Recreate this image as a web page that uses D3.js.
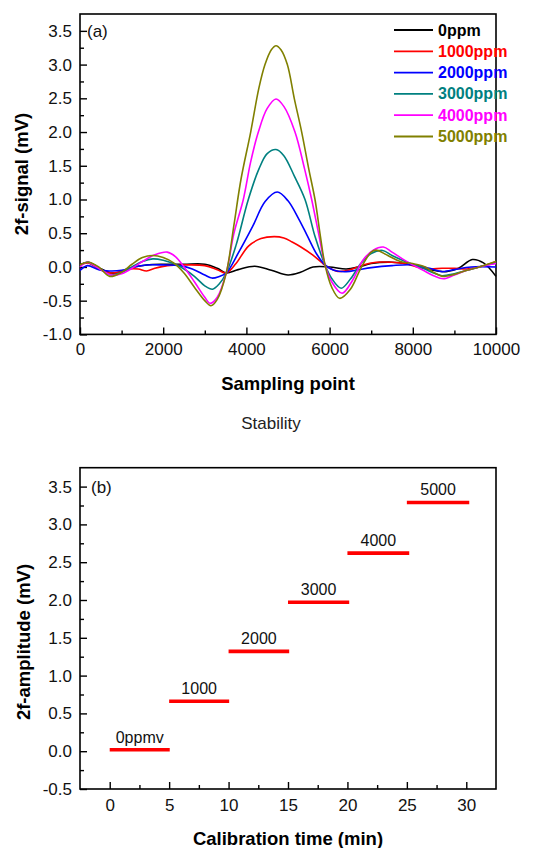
<!DOCTYPE html>
<html>
<head>
<meta charset="utf-8">
<script src="https://cdn.jsdelivr.net/npm/d3@7/dist/d3.min.js"></script>
<style>
  body { margin: 0; background: #fff; }
  text { font-family: "Liberation Sans", Arial, sans-serif; }
</style>
</head>
<body>
<div id="chart"></div>
<script>
// ---- panel (a): 2f signal vs sampling point, one curve per concentration
var seriesNames = ["0ppm", "1000ppm", "2000ppm", "3000ppm", "4000ppm", "5000ppm"];
var seriesColors = ["#000000", "#ff0000", "#0000ff", "#008080", "#ff00ff", "#808000"];

// [sampling point, mV]
var ppm0 = [[0,0.03],[200,0.07],[450,-0.01],[750,-0.09],[1000,-0.07],[1300,0.0],[1600,0.03],[2000,0.04],[2500,0.04],[3000,0.04],[3300,-0.02],[3515,-0.09],[3800,-0.04],[4200,0.01],[4600,-0.05],[5000,-0.12],[5300,-0.08],[5600,0.0],[6000,0.0],[6400,-0.03],[6700,0.0],[7000,0.05],[7500,0.07],[8000,0.03],[8400,-0.04],[8800,-0.07],[9100,-0.02],[9430,0.11],[9700,0.06],[10000,-0.14]];
var ppm1000 = [[0,0.03],[200,0.06],[450,-0.03],[750,-0.09],[1000,-0.07],[1200,-0.03],[1400,-0.03],[1600,-0.06],[1800,-0.02],[2100,0.02],[2500,0.03],[3000,0.02],[3300,-0.04],[3515,-0.09],[3750,0.05],[4050,0.31],[4350,0.42],[4666,0.45],[4900,0.43],[5100,0.37],[5300,0.3],[5590,0.18],[5800,0.07],[5950,0.0],[6200,-0.065],[6500,-0.04],[6800,0.03],[7120,0.07],[7500,0.07],[7800,0.05],[8100,0.0],[8400,-0.03],[8700,-0.02],[9000,-0.02],[9300,-0.03],[9600,0.0],[10000,0.08]];
var ppm2000 = [[0,-0.05],[180,0.02],[450,-0.04],[700,-0.06],[1000,-0.05],[1300,0.0],[1600,0.03],[2000,0.03],[2400,0.02],[2700,-0.03],[3000,-0.12],[3170,-0.165],[3350,-0.14],[3515,-0.09],[3800,0.2],[4150,0.6],[4450,0.97],[4743,1.11],[5000,0.98],[5250,0.72],[5450,0.48],[5700,0.18],[5890,0.03],[6100,-0.05],[6400,-0.07],[6700,-0.04],[7000,-0.01],[7500,0.02],[8000,0.03],[8400,-0.02],[8700,-0.07],[9000,-0.04],[9400,0.0],[10000,0.0]];
var ppm3000 = [[0,0.02],[180,0.07],[450,-0.02],[750,-0.12],[1000,-0.08],[1250,0.0],[1500,0.08],[1750,0.12],[2000,0.1],[2250,0.05],[2500,-0.03],[2750,-0.14],[3000,-0.28],[3185,-0.33],[3350,-0.25],[3515,-0.09],[3750,0.32],[4046,1.0],[4300,1.45],[4500,1.68],[4712,1.74],[4900,1.65],[5150,1.35],[5409,1.0],[5650,0.45],[5890,0.03],[6050,-0.17],[6278,-0.315],[6500,-0.18],[6750,0.05],[7000,0.2],[7276,0.245],[7500,0.17],[7750,0.1],[8000,0.04],[8250,-0.02],[8500,-0.09],[8700,-0.13],[9000,-0.1],[9300,-0.05],[9600,0.0],[10000,0.06]];
var ppm4000 = [[0,0.0],[180,0.07],[450,-0.02],[750,-0.12],[1000,-0.1],[1250,-0.02],[1500,0.08],[1800,0.18],[2095,0.22],[2300,0.15],[2500,0.0],[2750,-0.22],[3000,-0.45],[3131,-0.54],[3300,-0.45],[3515,-0.09],[3700,0.5],[3926,1.0],[4100,1.55],[4287,2.0],[4500,2.35],[4712,2.49],[4900,2.38],[5168,2.0],[5400,1.45],[5569,1.0],[5750,0.45],[5890,0.03],[6050,-0.22],[6300,-0.39],[6550,-0.2],[6800,0.1],[7050,0.25],[7291,0.295],[7500,0.22],[7750,0.12],[8000,0.03],[8250,-0.05],[8500,-0.13],[8734,-0.175],[9000,-0.12],[9300,-0.05],[9600,0.0],[10000,0.05]];
var ppm5000 = [[0,0.03],[200,0.07],[450,0.0],[714,-0.14],[1000,-0.08],[1250,0.04],[1500,0.14],[1750,0.17],[2000,0.14],[2250,0.06],[2500,-0.09],[2750,-0.3],[3000,-0.5],[3146,-0.575],[3300,-0.48],[3515,-0.09],[3700,0.62],[3870,1.3],[4103,2.0],[4300,2.65],[4447,3.0],[4600,3.22],[4712,3.28],[4830,3.22],[4984,3.0],[5150,2.5],[5329,2.0],[5500,1.45],[5649,1.0],[5780,0.45],[5890,0.03],[6050,-0.3],[6240,-0.465],[6500,-0.33],[6750,-0.02],[7000,0.22],[7120,0.25],[7400,0.17],[7700,0.08],[8000,0.05],[8300,0.0],[8500,-0.08],[8730,-0.14],[9000,-0.11],[9300,-0.05],[9600,0.0],[10000,0.08]];
var seriesData = [ppm0, ppm1000, ppm2000, ppm3000, ppm4000, ppm5000];

var signalXTicks = [0, 2000, 4000, 6000, 8000, 10000];
var signalYTicks = [-1.0, -0.5, 0.0, 0.5, 1.0, 1.5, 2.0, 2.5, 3.0, 3.5];

// ---- panel (b): calibration steps
var stepLabels = ["0ppmv", "1000", "2000", "3000", "4000", "5000"];
var stepStart = [0, 5, 10, 15, 20, 25];
var stepEnd = [5.05, 10.05, 15.1, 20.15, 25.2, 30.25];
var stepLevel = [0.02, 0.66, 1.32, 1.97, 2.62, 3.29];

var timeXTicks = [0, 5, 10, 15, 20, 25, 30];
var ampYTicks = [-0.5, 0.0, 0.5, 1.0, 1.5, 2.0, 2.5, 3.0, 3.5];

var svg = d3.select("#chart").append("svg")
  .attr("width", 546)
  .attr("height", 848)
  .style("background", "#fff");

function minorOf(ticks) {
  var out = [];
  for (var i = 0; i < ticks.length - 1; i++) out.push((ticks[i] + ticks[i + 1]) / 2);
  return out;
}

// draws the frame, inward ticks, labels; returns the scales
function panel(o) {
  var x = d3.scaleLinear().domain(o.xDomain).range([o.left, o.right]);
  var y = d3.scaleLinear().domain(o.yDomain).range([o.bottom, o.top]);
  var g = svg.append("g");

  g.append("g").attr("transform", "translate(0," + o.bottom + ")")
    .call(d3.axisBottom(x).tickValues(o.xTicks).tickSize(-7).tickPadding(o.xPad)
      .tickFormat(function (d) { return String(d); }))
    .call(function (a) { a.select(".domain").remove(); });
  g.append("g").attr("transform", "translate(0," + o.bottom + ")")
    .call(d3.axisBottom(x).tickValues(minorOf(o.xTicks)).tickSize(-4).tickFormat(""))
    .call(function (a) { a.select(".domain").remove(); });
  g.append("g").attr("transform", "translate(" + o.left + ",0)")
    .call(d3.axisLeft(y).tickValues(o.yTicks).tickSize(-7).tickPadding(8)
      .tickFormat(function (d) { return d.toFixed(1); }))
    .call(function (a) { a.select(".domain").remove(); });
  g.append("g").attr("transform", "translate(" + o.left + ",0)")
    .call(d3.axisLeft(y).tickValues(minorOf(o.yTicks)).tickSize(-4).tickFormat(""))
    .call(function (a) { a.select(".domain").remove(); });

  g.selectAll(".tick line").attr("stroke", "#000").attr("stroke-width", 1.4);
  g.selectAll(".tick text")
    .attr("font-family", "Liberation Sans, Arial, sans-serif")
    .attr("font-size", 17).attr("fill", "#111");

  g.append("rect")
    .attr("x", o.left).attr("y", o.top)
    .attr("width", o.right - o.left).attr("height", o.bottom - o.top)
    .attr("fill", "none").attr("stroke", "#000").attr("stroke-width", 1.6);

  g.append("text").text(o.tag)
    .attr("x", o.left + o.tagDx).attr("y", y(3.5) + 6)
    .attr("font-size", 17).attr("fill", "#111");

  g.append("text").text(o.xTitle)
    .attr("x", (o.left + o.right) / 2).attr("y", o.xTitleY)
    .attr("text-anchor", "middle")
    .attr("font-size", 18.5).attr("font-weight", "bold");

  g.append("text").text(o.yTitle)
    .attr("transform", "translate(" + o.yTitleX + "," + o.yTitleMid + ") rotate(-90)")
    .attr("text-anchor", "middle")
    .attr("font-size", 18.5).attr("font-weight", "bold");

  return { x: x, y: y, g: g };
}

// ---------- (a)
var a = panel({
  left: 80, right: 496, top: 14, bottom: 334.4,
  xDomain: [0, 10000], yDomain: [-1, 3.75],
  xTicks: signalXTicks, yTicks: signalYTicks, xPad: 9,
  tag: "(a)", tagDx: 7,
  xTitle: "Sampling point", xTitleY: 389.5,
  yTitle: "2f-signal (mV)", yTitleX: 28, yTitleMid: 174
});

var line = d3.line()
  .x(function (d) { return a.x(d[0]); })
  .y(function (d) { return a.y(d[1]); })
  .curve(d3.curveCatmullRom.alpha(0.5));

a.g.append("g").selectAll("path").data(seriesData).enter().append("path")
  .attr("d", line)
  .attr("fill", "none")
  .attr("stroke", function (d, i) { return seriesColors[i]; })
  .attr("stroke-width", 1.6);

var legend = a.g.append("g").selectAll("g").data(seriesNames).enter().append("g")
  .attr("transform", function (d, i) { return "translate(394," + (30 + i * 21.3) + ")"; });
legend.append("line")
  .attr("x1", 0).attr("x2", 39)
  .attr("stroke", function (d, i) { return seriesColors[i]; })
  .attr("stroke-width", 1.8);
legend.append("text").text(function (d) { return d; })
  .attr("x", 44).attr("y", 5.5)
  .attr("font-size", 16).attr("font-weight", "bold")
  .attr("fill", function (d, i) { return seriesColors[i]; });

// caption between panels
svg.append("text").text("Stability")
  .attr("x", 271).attr("y", 429)
  .attr("text-anchor", "middle")
  .attr("font-family", "Open Sans, sans-serif")
  .attr("font-size", 17).attr("fill", "#222");

// ---------- (b)
var b = panel({
  left: 80, right: 496, top: 467.7, bottom: 789,
  xDomain: [-2.5, 32.5], yDomain: [-0.5, 3.75],
  xTicks: timeXTicks, yTicks: ampYTicks, xPad: 10,
  tag: "(b)", tagDx: 11,
  xTitle: "Calibration time (min)", xTitleY: 844.5,
  yTitle: "2f-amplitude (mV)", yTitleX: 29.5, yTitleMid: 642
});

var steps = stepLabels.map(function (s, i) {
  return { label: s, t0: stepStart[i], t1: stepEnd[i], v: stepLevel[i] };
});

b.g.append("g").selectAll("line").data(steps).enter().append("line")
  .attr("x1", function (d) { return b.x(d.t0); })
  .attr("x2", function (d) { return b.x(d.t1); })
  .attr("y1", function (d) { return b.y(d.v); })
  .attr("y2", function (d) { return b.y(d.v); })
  .attr("stroke", "#ff0000")
  .attr("stroke-width", 3.6);

b.g.append("g").selectAll("text").data(steps).enter().append("text")
  .text(function (d) { return d.label; })
  .attr("x", function (d) { return b.x((d.t0 + d.t1) / 2); })
  .attr("y", function (d) { return b.y(d.v) - 7; })
  .attr("text-anchor", "middle")
  .attr("font-size", 16).attr("fill", "#111");
</script>
</body>
</html>
